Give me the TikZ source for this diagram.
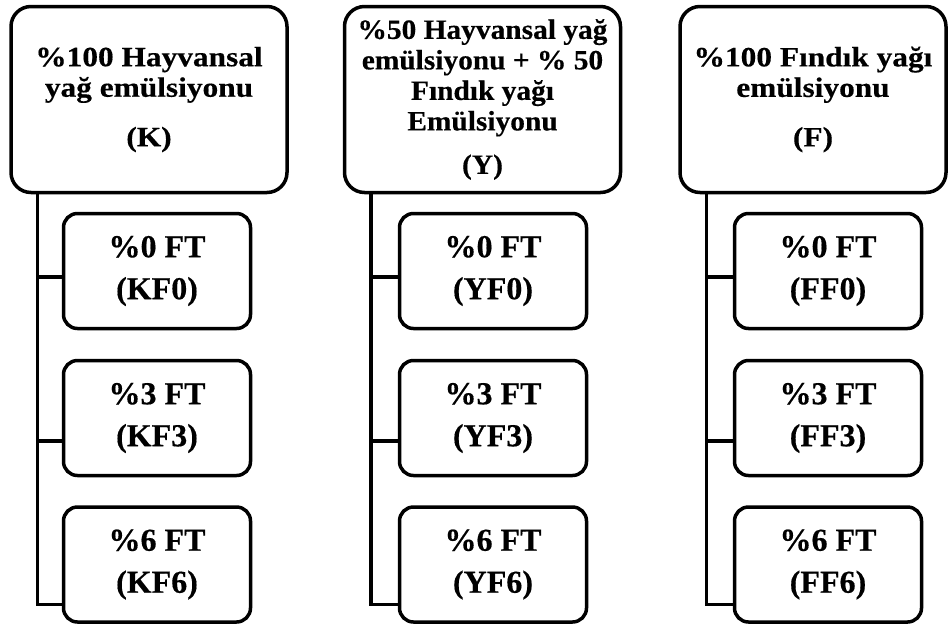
\documentclass[tikz,border=0pt]{standalone}
\usepackage{fontspec}
\setmainfont{Liberation Serif}[BoldFeatures={FakeBold=0.4}]
\newfontfamily\topfont{Liberation Serif}[FakeStretch=1.12,BoldFeatures={FakeBold=0.4}]
\newfontfamily\midfont{Liberation Serif}[FakeStretch=1.05,BoldFeatures={FakeBold=0.4}]
\tikzset{
  parent/.style={draw, line width=3.5pt, rounded corners=20pt,
    minimum height=186pt, inner sep=0pt, align=center,
    font={\topfont\bfseries\fontsize{28}{30.5}\selectfont},
    execute at begin node={\vspace*{10pt}}},
  child/.style={draw, line width=3.5pt, rounded corners=14pt,
    minimum width=187pt, minimum height=115pt, inner sep=0pt, align=center,
    font={\bfseries\fontsize{32}{42}\selectfont}},
  link/.style={line width=3.5pt}
}
\begin{document}
\begin{tikzpicture}[x=1pt,y=-1pt]
  \useasboundingbox (0,0) rectangle (949,630);
  % top boxes
  \node[parent, minimum width=276pt] (K) at (149,99.5)
    {\%100 Hayvansal\\yağ emülsiyonu\\[19pt](K)};
  \node[parent, minimum width=276pt,
    font={\midfont\bfseries\fontsize{28}{30.5}\selectfont},
    execute at begin node={\vspace*{20pt}}] (Y) at (482.5,99.5)
    {\%50 Hayvansal yağ\\emülsiyonu + \% 50\\Fındık yağı\\Emülsiyonu\\[13pt](Y)};
  \node[parent, minimum width=266pt] (F) at (813,99.5)
    {\%100 Fındık yağı\\emülsiyonu\\[19pt](F)};
  % children and links
  \foreach \col/\cx in {K/157, Y/493, F/828} {
    \foreach \pct/\cy in {0/271, 3/418, 6/564.5}
      \node[child] (\col F\pct) at (\cx,\cy) {\%\pct\ FT\\(\col F\pct)};
    \coordinate (\col t) at ([xshift=28pt]\col.south west);
    \draw[link] (\col t) |- ([yshift=-40pt]\col F6.west);
    \foreach \pct/\off in {0/6, 3/23}
      \draw[link] ([yshift=-\off pt]\col F\pct.west) -| (\col t);
  }
\end{tikzpicture}
\end{document}
